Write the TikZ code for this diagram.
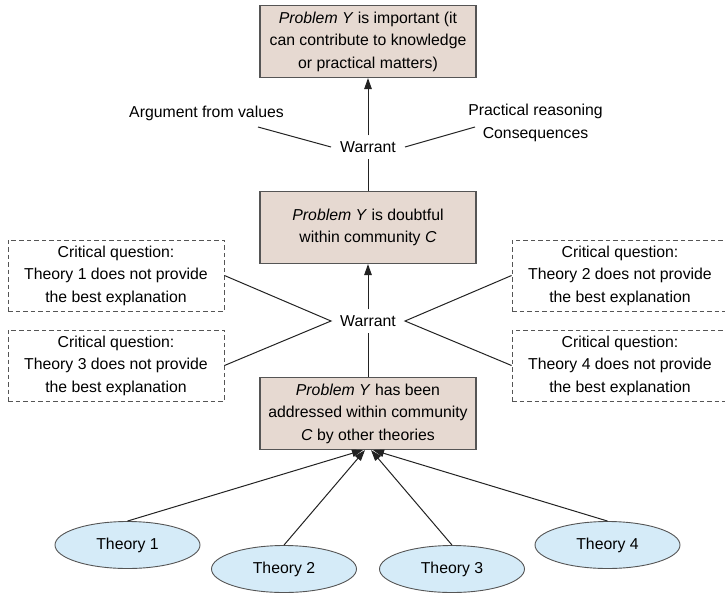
\documentclass[tikz,border=0pt]{standalone}
\usepackage{fontspec}
\setmainfont{Liberation Sans}
\usetikzlibrary{arrows.meta,shapes.geometric}
\definecolor{claimfill}{HTML}{E6D9D1}
\definecolor{theoryfill}{HTML}{D5EBF8}
\definecolor{edgegray}{HTML}{555555}
\definecolor{linegray}{HTML}{222222}
\begin{document}
\begin{tikzpicture}[x=1pt,y=-1pt,
  font=\fontsize{15.8}{22.5}\selectfont,
  claim/.style={draw=edgegray, line width=1.1pt, fill=claimfill, align=center,
    minimum width=216pt, minimum height=72pt, inner sep=0pt},
  question/.style={draw=edgegray, line width=0.9pt, dash pattern=on 4.5pt off 3pt,
    align=center, minimum width=216pt, minimum height=71pt, inner sep=0pt},
  theory/.style={draw=edgegray, line width=0.9pt, fill=theoryfill, ellipse,
    minimum width=145pt, minimum height=47pt, inner sep=0pt},
  warrant/.style={inner xsep=9pt, inner ysep=6pt},
  link/.style={draw=linegray, line width=1pt},
  support/.style={link, -{Triangle[length=11pt,width=7.5pt]}},
]
\useasboundingbox (0,0) rectangle (725,595);

% claims
\node[claim] (top) at (368,41.5) {\textit{Problem Y} is important (it\\can contribute to knowledge\\or practical matters)};
\node[claim] (mid) at (368,227.5) {\textit{Problem Y} is doubtful\\within community \textit{C}};
\node[claim] (bot) at (368,413.5) {\textit{Problem Y} has been\\addressed within community\\\textit{C} by other theories};

% warrants
\node[warrant] (w1) at (368,147) {Warrant};
\node[warrant] (w2) at (368,321) {Warrant};

% warrant sources
\node (arg) at (206.5,113) {Argument from values};
\node[align=center] (prac) at (535.5,123) {Practical reasoning\\Consequences};
\coordinate (argend) at (258,127);
\coordinate (pracend) at (475,127);

% critical questions
\node[question] (q1) at (116,275.5) {Critical question:\\Theory 1 does not provide\\the best explanation};
\node[question] (q3) at (116,365.5) {Critical question:\\Theory 3 does not provide\\the best explanation};
\node[question] (q2) at (620,275.5) {Critical question:\\Theory 2 does not provide\\the best explanation};
\node[question] (q4) at (620,365.5) {Critical question:\\Theory 4 does not provide\\the best explanation};

% theories
\node[theory] (t1) at (127.5,545) {Theory 1};
\node[theory] (t2) at (284,569) {Theory 2};
\node[theory] (t3) at (452,569) {Theory 3};
\node[theory] (t4) at (607.5,545) {Theory 4};

% connectors
\draw[support] (w1.north) -- (top.south);
\draw[link] (mid.north) -- (w1.south);
\draw[link] (argend) -- (w1.west);
\draw[link] (pracend) -- (w1.east);

\draw[support] (w2.north) -- (mid.south);
\draw[link] (bot.north) -- (w2.south);
\draw[link] (q1.east) -- (w2.west) -- (q3.east);
\draw[link] (q2.west) -- (w2.east) -- (q4.west);

\draw[support] (t1.north) -- ([xshift=-5pt]bot.south);
\draw[support] (t2.north) -- ([xshift=-3pt]bot.south);
\draw[support] (t3.north) -- ([xshift=3pt]bot.south);
\draw[support] (t4.north) -- ([xshift=5pt]bot.south);
\end{tikzpicture}
\end{document}
